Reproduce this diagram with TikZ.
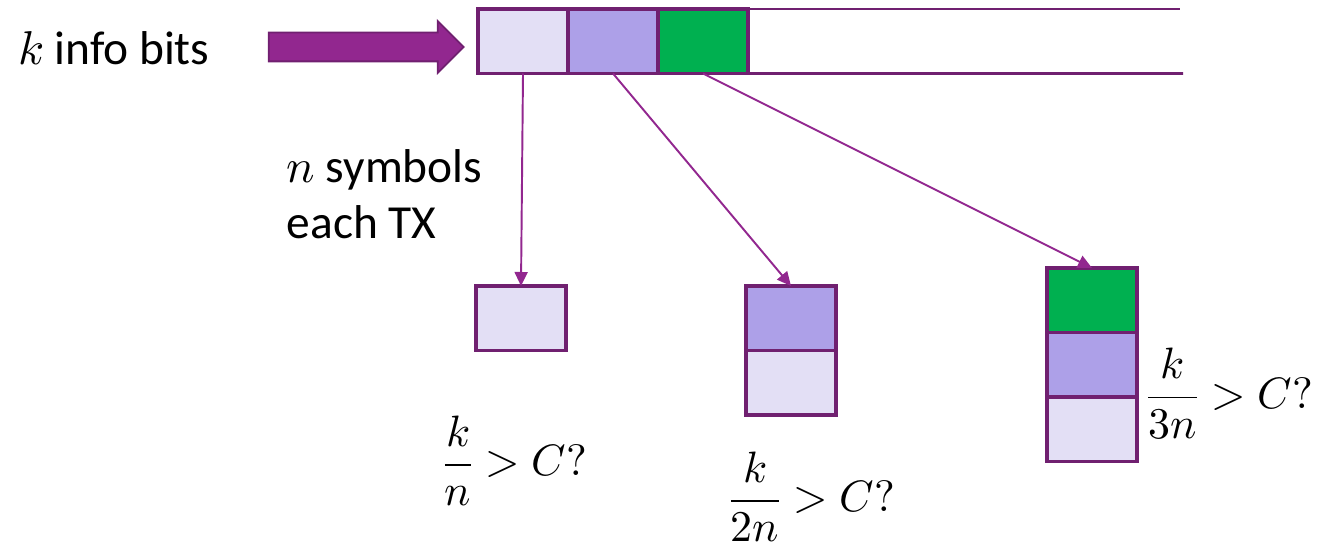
\documentclass[tikz,border=0pt]{standalone}
\usepackage{fontspec}
\usepackage{unicode-math}
\setmainfont{Carlito}
\setmathfont{Latin Modern Math}
\usepackage{tikz}
\usetikzlibrary{arrows.meta,positioning,shapes.arrows}
\definecolor{cellpale}{RGB}{227,223,245}
\definecolor{cellmid}{RGB}{173,160,232}
\definecolor{cellgreen}{RGB}{0,176,80}
\definecolor{edgeplum}{RGB}{112,32,112}
\definecolor{arrowplum}{RGB}{146,39,143}

\begin{document}
\begin{tikzpicture}[
  cell/.style={
    draw=edgeplum, line width=2pt,
    minimum width=1.8cm, minimum height=1.29cm,
    inner sep=0pt, outer sep=0pt
  },
  pale/.style={cell, fill=cellpale},
  mid/.style={cell, fill=cellmid},
  green/.style={cell, fill=cellgreen},
  arrow/.style={-{Triangle[length=2.8mm,width=2.6mm]},line width=1.1pt,arrowplum},
  label/.style={font=\fontsize{27}{32}\selectfont,align=left,inner sep=0pt},
  rate/.style={font=\fontsize{25}{30}\selectfont,inner sep=0pt},
  node distance=0pt
]
\useasboundingbox (0,0) rectangle (26.38,-11);

% input and frame
\node[label,anchor=west] (info) at (0.36,-0.96) {$k$ info bits};
\node[single arrow, fill=arrowplum, draw=edgeplum, line width=1pt,
  minimum height=3.9cm, inner xsep=0pt, inner ysep=0.27cm,
  single arrow head extend=0.23cm] (feed) at (7.18,-0.94) {};

\node[pale,anchor=north west] (c1) at (9.56,-0.18) {};
\node[mid,right=of c1] (c2) {};
\node[green,right=of c2] (c3) {};
\coordinate (topend) at (23.6,-0.18);
\coordinate (botend) at (23.66,-1.47);
\draw[edgeplum,line width=1.6pt] (c3.north east) -- (topend);
\draw[edgeplum,line width=1.6pt] (c3.south east) -- (botend);

% transmissions
\node[pale,anchor=north west] (b1) at (9.52,-5.72) {};

\node[mid,anchor=north west] (b2a) at (14.92,-5.72) {};
\node[pale,below=of b2a] (b2b) {};

\node[green,anchor=north west] (b3a) at (20.94,-5.36) {};
\node[mid,below=of b3a] (b3b) {};
\node[pale,below=of b3b] (b3c) {};

\draw[arrow] (c1.south) -- (b1.north);
\draw[arrow] (c2.south) -- (b2a.north);
\draw[arrow] (c3.south) -- (b3a.north);

% labels
\node[label] (each) at (7.69,-3.88) {$n$ symbols\\each TX};
\node[rate] (rate1) at (10.3,-9.22) {$\displaystyle\frac{k}{n} > C?$};
\node[rate] (rate2) at (16.24,-9.94) {$\displaystyle\frac{k}{2n} > C?$};
\node[rate,anchor=west] (rate3) at (22.92,-7.88) {$\displaystyle\frac{k}{3n} > C?$};
\end{tikzpicture}
\end{document}
